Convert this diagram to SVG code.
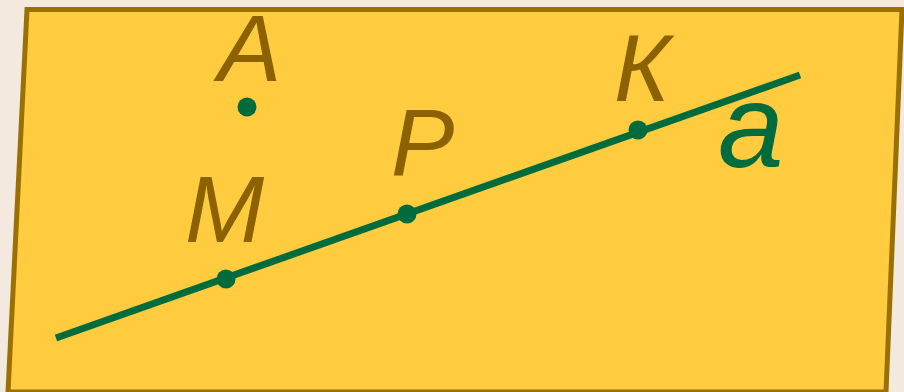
<svg xmlns="http://www.w3.org/2000/svg" width="904" height="392" viewBox="0 0 904 392">
<style>
.lbl{font-family:"Liberation Sans",Arial,sans-serif;font-style:italic;fill:#8c6100;font-size:95px}
.pt{fill:#006b3c}
</style>
<rect width="904" height="392" fill="#f3e9df"/>
<g id="plane">
<polygon points="27,9.5 902,9.5 886,392 8,392" fill="#ffcc3f" stroke="#9a7100" stroke-width="5" stroke-linejoin="miter"/>
</g>
<g id="connectors">
<line x1="56" y1="338" x2="800" y2="75" stroke="#006b3c" stroke-width="7"/>
</g>
<g id="A"><circle class="pt" cx="247" cy="107" r="9.5"/><text class="lbl" x="218" y="81">А</text></g>
<g id="M"><circle class="pt" cx="226" cy="279" r="9.5"/><text class="lbl" x="185" y="242">М</text></g>
<g id="P"><circle class="pt" cx="407" cy="214" r="9.5"/><text class="lbl" x="391" y="175">Р</text></g>
<g id="K"><circle class="pt" cx="638" cy="130" r="9.5"/><text class="lbl" x="614" y="101">К</text></g>
<g id="a"><text x="718" y="167" font-family="Liberation Sans,Arial,sans-serif" font-style="italic" font-size="118" fill="#006b3c">а</text></g>
</svg>
